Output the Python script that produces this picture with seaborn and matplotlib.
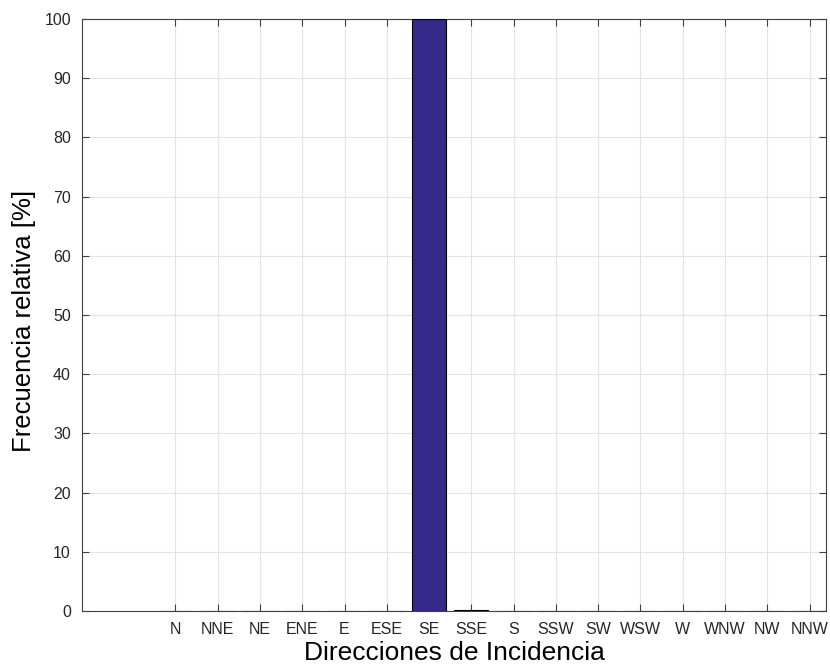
import numpy as np
import pandas as pd
import matplotlib
matplotlib.use("Agg")
import matplotlib.pyplot as plt
import seaborn as sns

directions = ["N", "NNE", "NE", "ENE", "E", "ESE", "SE", "SSE",
              "S", "SSW", "SW", "WSW", "W", "WNW", "NW", "NNW"]
positions = list(range(1, 17))
frequency = [0, 0, 0, 0, 0, 0, 100.0, 0.2, 0, 0, 0, 0, 0, 0, 0, 0]
yticks = [0, 10, 20, 30, 40, 50, 60, 70, 80, 90, 100]

sns.set_theme(style="white")
plt.rcParams['font.family'] = ['Liberation Sans', 'DejaVu Sans']

df = pd.DataFrame({"pos": positions, "freq": frequency})

fig = plt.figure(figsize=(8.3, 6.68), dpi=100)
ax = fig.add_axes([82/830, 57/668, 744/830, 592/668])

sns.barplot(data=df, x="pos", y="freq", native_scale=True, width=0.8,
            color="#35298a", saturation=1, edgecolor="black", linewidth=0.8,
            ax=ax, zorder=3)

ax.set_xlim(-1.21, 16.39)
ax.set_ylim(0, 100)
ax.set_xticks(positions)
ax.set_xticklabels(directions)
ax.set_yticks(yticks)

ax.grid(True, color="#e3e3e3", linewidth=0.8, zorder=0)
ax.set_axisbelow(True)

for s in ax.spines.values():
    s.set_color("#404040")
    s.set_linewidth(0.8)
    s.set_visible(True)

ax.tick_params(direction="in", length=5, width=0.8, color="#404040",
               labelcolor="#262626", labelsize=11.5, top=True, right=True,
               bottom=True, left=True, pad=8)

ax.set_xlabel("Direcciones de Incidencia", fontsize=19, color="black", labelpad=3)
ax.set_ylabel("Frecuencia relativa [%]", fontsize=18.5, color="black")
ax.yaxis.set_label_coords(-0.062, 0.49)

fig.savefig("out.png", dpi=100)
